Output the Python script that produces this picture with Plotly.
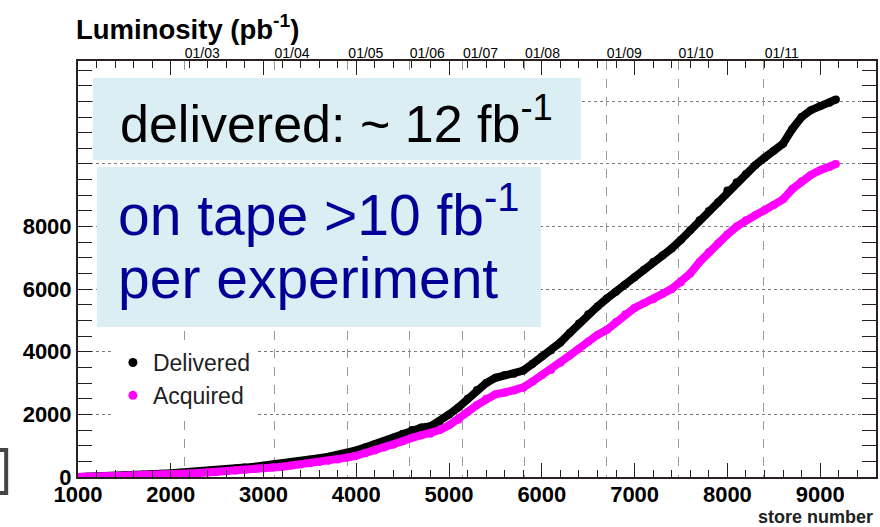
import plotly.graph_objects as go

# Store numbers (bottom axis) and integrated luminosity in pb^-1
stores = [1000, 1100, 1200, 1300, 1400, 1500, 1600, 1700, 1800, 1900,
          2000, 2100, 2200, 2300, 2400, 2500, 2600, 2700, 2800, 2900,
          3000, 3100, 3200, 3300, 3400, 3500, 3600, 3700, 3800, 3900,
          4000, 4100, 4200, 4300, 4400, 4500, 4600, 4700, 4800, 4900,
          5000, 5100, 5200, 5300, 5400, 5500, 5600, 5700, 5800, 5900,
          6000, 6100, 6200, 6300, 6400, 6500, 6600, 6700, 6800, 6900,
          7000, 7100, 7200, 7300, 7400, 7500, 7600, 7700, 7800, 7900,
          8000, 8100, 8200, 8300, 8400, 8500, 8600, 8700, 8800, 8900,
          9000, 9100, 9170]

delivered = [0, 5, 15, 25, 35, 45, 60, 75, 90, 105,
             120, 135, 150, 170, 190, 215, 240, 270, 300, 330,
             360, 390, 420, 460, 500, 550, 600, 650, 700, 770,
             850, 950, 1050, 1150, 1250, 1380, 1500, 1580, 1620, 1780,
             2000, 2220, 2500, 2780, 3000, 3170, 3260, 3300, 3400, 3620,
             3850, 4050, 4300, 4600, 4900, 5200, 5450, 5700, 5920, 6150,
             6380, 6620, 6870, 7080, 7300, 7580, 7880, 8200, 8500, 8780,
             9150, 9420, 9680, 9960, 10200, 10420, 10650, 11120, 11500, 11720,
             11850, 11960, 12060]

acquired = [0, 4, 10, 17, 25, 32, 40, 50, 60, 72,
            85, 97, 110, 125, 140, 160, 180, 205, 230, 255,
            280, 305, 330, 365, 400, 440, 480, 520, 560, 620,
            680, 760, 850, 940, 1030, 1140, 1250, 1330, 1380, 1500,
            1650, 1830, 2080, 2300, 2500, 2640, 2700, 2760, 2860, 3050,
            3250, 3420, 3650, 3880, 4100, 4330, 4540, 4700, 4950, 5200,
            5400, 5550, 5680, 5850, 6010, 6220, 6500, 6870, 7180, 7470,
            7750, 8000, 8200, 8360, 8520, 8690, 8870, 9200, 9450, 9650,
            9800, 9900, 10000]

# Calendar marks (month/year) placed at the corresponding store numbers
date_stores = [2145, 3113, 3909, 4570, 5145, 5812, 6694, 7468, 8392]
date_labels = ["01/03", "01/04", "01/05", "01/06", "01/07", "01/08",
               "01/09", "01/10", "01/11"]

x_tick_vals = [1000, 2000, 3000, 4000, 5000, 6000, 7000, 8000, 9000]
x_tick_text = ["1000", "2000", "3000", "4000", "5000", "6000", "7000", "8000", "9000"]
y_tick_vals = [0, 2000, 4000, 6000, 8000, 10000, 12000]
y_tick_text = ["0", "2000", "4000", "6000", "8000", "", ""]

X_RANGE = [1000, 9602]
Y_RANGE = [0, 13290]

W, H = 880, 527
ML, MR, MT, MB = 78, 2, 61, 50
PW, PH = W - ML - MR, H - MT - MB

FONT = "Liberation Sans, Arial, Helvetica, sans-serif"
FRAME = "#2a2020"


def px(xp):
    return (xp - ML) / PW


def py(yp):
    return (H - MB - yp) / PH


fig = go.Figure()

fig.add_trace(go.Scatter(
    x=stores, y=delivered, mode="lines+markers", showlegend=False,
    line=dict(color="black", width=8),
    marker=dict(color="black", size=8), hoverinfo="skip"))
fig.add_trace(go.Scatter(
    x=stores, y=acquired, mode="lines+markers", showlegend=False,
    line=dict(color="#ff00ff", width=8),
    marker=dict(color="#ff00ff", size=8), hoverinfo="skip"))

# legend entries drawn as plain dots
fig.add_trace(go.Scatter(
    x=[None], y=[None], mode="markers", name="Delivered", xaxis="x2",
    legendgroup="d", marker=dict(color="black", size=9)))
fig.add_trace(go.Scatter(
    x=[None], y=[None], mode="markers", name="Acquired", xaxis="x2",
    legendgroup="a", marker=dict(color="#ff00ff", size=9)))

fig.update_layout(
    width=W, height=H,
    margin=dict(l=ML, r=MR, t=MT, b=MB, pad=0),
    paper_bgcolor="white", plot_bgcolor="white",
    font=dict(family=FONT, color="black"),
    xaxis=dict(
        range=X_RANGE, tickmode="array", tickvals=x_tick_vals, ticktext=x_tick_text,
        ticks="inside", ticklen=14, tickwidth=1.2, tickcolor=FRAME,
        minor=dict(dtick=200, tick0=1000, ticks="inside", ticklen=7,
                   tickwidth=1, tickcolor=FRAME, showgrid=False),
        showline=True, linecolor=FRAME, linewidth=2, mirror="allticks",
        showgrid=False, zeroline=False, ticklabelstandoff=-3,
        tickfont=dict(family=FONT, size=22, weight="bold", color="black"),
    ),
    xaxis2=dict(
        range=X_RANGE, overlaying="x", side="top", anchor="y",
        tickmode="array", tickvals=date_stores, ticktext=date_labels,
        ticks="", showline=False, zeroline=False,
        showgrid=True, gridcolor="#9a9a9a", gridwidth=1, griddash="dash",
        ticklabelshift=18, ticklabelstandoff=-1,
        tickfont=dict(family=FONT, size=14, color="black"),
    ),
    yaxis=dict(
        range=Y_RANGE, tickmode="array", tickvals=y_tick_vals, ticktext=y_tick_text,
        ticks="inside", ticklen=14, tickwidth=1.2, tickcolor=FRAME,
        minor=dict(dtick=500, tick0=0, ticks="inside", ticklen=9,
                   tickwidth=1, tickcolor=FRAME, showgrid=False),
        showline=True, linecolor=FRAME, linewidth=2, mirror="allticks",
        showgrid=True, gridcolor="#7a7a7a", gridwidth=1, griddash="dot",
        zeroline=False,
        tickfont=dict(family=FONT, size=22, weight="bold", color="black"),
    ),
    legend=dict(
        x=px(113), y=py(341), xanchor="left", yanchor="top",
        bgcolor="white", borderwidth=0, tracegroupgap=0,
        entrywidth=200, entrywidthmode="pixels",
        font=dict(family=FONT, size=23, color="#222222"),
    ),
    showlegend=True,
)

# highlight boxes
fig.add_shape(type="rect", xref="paper", yref="paper", layer="above",
              x0=px(93), x1=px(582), y0=py(160), y1=py(78),
              fillcolor="#daeef3", line=dict(width=0))
fig.add_shape(type="rect", xref="paper", yref="paper", layer="above",
              x0=px(97), x1=px(542), y0=py(327), y1=py(167),
              fillcolor="#daeef3", line=dict(width=0))

# bracket at the lower left edge
fig.add_shape(type="path", xref="paper", yref="paper", layer="above",
              path="M {a},{b} L {c},{b} L {c},{d} L {a},{d}".format(
                  a=px(-2), c=px(6), b=py(450), d=py(493)),
              line=dict(color="#444444", width=4))

fig.add_annotation(
    xref="paper", yref="paper", x=px(337.5), y=py(120),
    xanchor="center", yanchor="middle", showarrow=False,
    text="delivered: ~ 12 fb<sup>-1</sup>",
    font=dict(family=FONT, size=52, color="black"))

fig.add_annotation(
    xref="paper", yref="paper", x=px(116), y=py(211),
    xanchor="left", yanchor="middle", align="left", showarrow=False,
    text="on tape >10 fb<sup>-1</sup>",
    font=dict(family=FONT, size=57, color="#000096"))
fig.add_annotation(
    xref="paper", yref="paper", x=px(116), y=py(278),
    xanchor="left", yanchor="middle", align="left", showarrow=False,
    text="per experiment",
    font=dict(family=FONT, size=57, color="#000096"))

fig.add_annotation(
    xref="paper", yref="paper", x=px(74), y=py(28),
    xanchor="left", yanchor="middle", showarrow=False,
    text="<b>Luminosity (pb<sup>-1</sup>)</b>",
    font=dict(family=FONT, size=27.5, color="black"))

fig.add_annotation(
    xref="paper", yref="paper", x=px(877), y=py(517),
    xanchor="right", yanchor="middle", showarrow=False,
    text="<b>store number</b>",
    font=dict(family=FONT, size=18, color="#222222"))

fig.write_html("out.html")
